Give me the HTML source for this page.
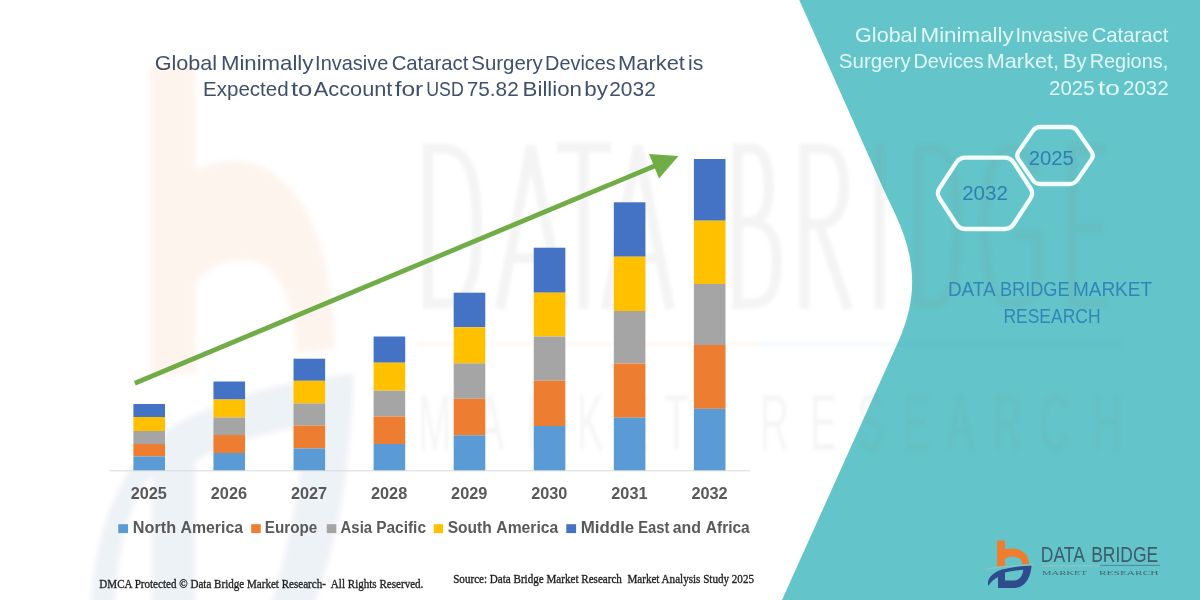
<!DOCTYPE html>
<html><head><meta charset="utf-8">
<style>
html,body{margin:0;padding:0;background:#fff;}
body{width:1200px;height:600px;overflow:hidden;position:relative;font-family:"Liberation Sans",sans-serif;}
svg{position:absolute;left:0;top:0;display:block;}
</style></head><body>
<svg width="1200" height="600" viewBox="0 0 1200 600">
<rect x="0" y="0" width="1200" height="600" fill="#ffffff"/>

<defs><filter id="bl" x="-10%" y="-10%" width="120%" height="120%"><feGaussianBlur stdDeviation="2.5"/></filter>
<filter id="bl2" x="-5%" y="-5%" width="110%" height="110%"><feGaussianBlur stdDeviation="1.5"/></filter></defs>
<g filter="url(#bl)">
<path transform="matrix(5.8,0,0,12,-5633.2,-6421.3)" d="M997.1 566.5 L997.1 541.5 Q997.1 540.5 998.1 540.5 L1004 540.5 Q1005 540.5 1005 541.5 L1005 549.2 C1008 548.6 1011 548.4 1013.5 548.6 C1023 549.5 1028.6 555 1029 564.2 L1022.4 564.6 C1022 560 1019 557 1014 556.8 C1010 556.7 1007 557.4 1005 558.6 L1005 566.2 Z" fill="#ed7d31" opacity="0.085"/>
<path transform="matrix(6.0,0,0,12.3,-5835.6,-6581.9)" d="M988.2 590 C986 580 992 572.5 1002 569.6 C1012 567 1022 566 1031.5 565.5 C1031 576 1026 587.5 1014.5 592 L998 592 L998 573.8 C993.5 576 991 581 991.5 590 Z M1005 590 L1005 572.6 C1011 571 1017 570.2 1023.3 569.8 C1022.8 575 1020 582 1014 590 Z" fill="#2d4b8c" fill-rule="evenodd" opacity="0.07"/>
</g>

<path d="M799.3 0 L1200 0 L1200 600 L782 600 L899 340 C930.5 270 897.2 220 883.85 190 Z" fill="#63c5c9"/>
<g filter="url(#bl2)">
<g opacity="0.085" fill="none" stroke="#7f7f7f" stroke-width="10">
<path d="M428 309 L428 148.5 L443 148.5 C468 148.5 477 175 477 228 C477 281 468 303.5 443 303.5 L428 303.5"/>
<path d="M500 309 L531 146 L563 309 M511 258 L552 258"/>
<path d="M557 147.5 L611 147.5 M583.5 147.5 L583.5 309"/>
<path d="M606 309 L638 146 L670 309 M617 258 L659 258"/>
<path d="M737.5 309 L737.5 148.5 L752 148.5 C764 148.5 769 166 769 187 C769 210 762 222 748 222 L737.5 222 M748 222 C770 222 777 238 777 262 C777 292 768 303.5 752 303.5 L737.5 303.5"/>
<path d="M804.5 309 L804.5 148.5 L821 148.5 C838 148.5 844 164 844 186 C844 211 835 224 819 224 L804.5 224 M819 224 L848 309"/>
<path d="M879.5 143 L879.5 309"/>
<path d="M919 309 L919 148.5 L932 148.5 C950 148.5 957 171 957 228 C957 285 950 303.5 932 303.5 L919 303.5"/>
<path d="M1036 175 C1032 158 1022 148.5 1011 148.5 C993 148.5 984.5 180 984.5 228 C984.5 276 993 303.5 1011 303.5 C1024 303.5 1032 298 1037.5 292 L1037.5 235 L1015 235"/>
<path d="M1106 148.5 L1072 148.5 L1072 303.5 L1106 303.5 M1072 228 L1103 228"/>
</g>
<line x1="418" y1="344" x2="760" y2="344" stroke="#ed7d31" stroke-opacity="0.06" stroke-width="3"/>
<line x1="760" y1="344" x2="1121" y2="344" stroke="#4472c4" stroke-opacity="0.06" stroke-width="3"/>
<g opacity="0.075" fill="#7f7f7f" font-family="Liberation Sans" font-size="80">
<text transform="translate(418,449.5) scale(0.5,1)">M</text>
<text transform="translate(477,449.5) scale(0.5,1)">A</text>
<text transform="translate(527,449.5) scale(0.5,1)">R</text>
<text transform="translate(577,449.5) scale(0.5,1)">K</text>
<text transform="translate(622,449.5) scale(0.5,1)">E</text>
<text transform="translate(664,449.5) scale(0.5,1)">T</text>
<text transform="translate(760,449.5) scale(0.5,1)">R</text>
<text transform="translate(810,449.5) scale(0.5,1)">E</text>
<text transform="translate(857,449.5) scale(0.5,1)">S</text>
<text transform="translate(903,449.5) scale(0.5,1)">E</text>
<text transform="translate(947,449.5) scale(0.5,1)">A</text>
<text transform="translate(993,449.5) scale(0.5,1)">R</text>
<text transform="translate(1040,449.5) scale(0.5,1)">C</text>
<text transform="translate(1093,449.5) scale(0.5,1)">H</text>
</g>
</g>

<text x="154.65" y="69.80" font-family="Liberation Sans" font-size="20.4" font-weight="normal" fill="#3f506b" textLength="62.45" lengthAdjust="spacingAndGlyphs">Global</text>
<text x="220.90" y="69.80" font-family="Liberation Sans" font-size="20.4" font-weight="normal" fill="#3f506b" textLength="92.50" lengthAdjust="spacingAndGlyphs">Minimally</text>
<text x="315.10" y="69.80" font-family="Liberation Sans" font-size="20.4" font-weight="normal" fill="#3f506b" textLength="73.20" lengthAdjust="spacingAndGlyphs">Invasive</text>
<text x="391.70" y="69.80" font-family="Liberation Sans" font-size="20.4" font-weight="normal" fill="#3f506b" textLength="76.60" lengthAdjust="spacingAndGlyphs">Cataract</text>
<text x="471.30" y="69.80" font-family="Liberation Sans" font-size="20.4" font-weight="normal" fill="#3f506b" textLength="71.55" lengthAdjust="spacingAndGlyphs">Surgery</text>
<text x="545.10" y="69.80" font-family="Liberation Sans" font-size="20.4" font-weight="normal" fill="#3f506b" textLength="70.70" lengthAdjust="spacingAndGlyphs">Devices</text>
<text x="618.00" y="69.80" font-family="Liberation Sans" font-size="20.4" font-weight="normal" fill="#3f506b" textLength="66.90" lengthAdjust="spacingAndGlyphs">Market</text>
<text x="688.00" y="69.80" font-family="Liberation Sans" font-size="20.4" font-weight="normal" fill="#3f506b" textLength="15.30" lengthAdjust="spacingAndGlyphs">is</text>
<text x="203.00" y="96.10" font-family="Liberation Sans" font-size="20.4" font-weight="normal" fill="#3f506b" textLength="85.70" lengthAdjust="spacingAndGlyphs">Expected</text>
<text x="290.90" y="96.10" font-family="Liberation Sans" font-size="20.4" font-weight="normal" fill="#3f506b" textLength="21.50" lengthAdjust="spacingAndGlyphs">to</text>
<text x="313.80" y="96.10" font-family="Liberation Sans" font-size="20.4" font-weight="normal" fill="#3f506b" textLength="78.60" lengthAdjust="spacingAndGlyphs">Account</text>
<text x="394.65" y="96.10" font-family="Liberation Sans" font-size="20.4" font-weight="normal" fill="#3f506b" textLength="28.65" lengthAdjust="spacingAndGlyphs">for</text>
<text x="426.30" y="96.10" font-family="Liberation Sans" font-size="20.4" font-weight="normal" fill="#3f506b" textLength="37.50" lengthAdjust="spacingAndGlyphs">USD</text>
<text x="466.70" y="96.10" font-family="Liberation Sans" font-size="20.4" font-weight="normal" fill="#3f506b" textLength="52.00" lengthAdjust="spacingAndGlyphs">75.82</text>
<text x="522.60" y="96.10" font-family="Liberation Sans" font-size="20.4" font-weight="normal" fill="#3f506b" textLength="59.40" lengthAdjust="spacingAndGlyphs">Billion</text>
<text x="584.20" y="96.10" font-family="Liberation Sans" font-size="20.4" font-weight="normal" fill="#3f506b" textLength="23.65" lengthAdjust="spacingAndGlyphs">by</text>
<text x="609.20" y="96.10" font-family="Liberation Sans" font-size="20.4" font-weight="normal" fill="#3f506b" textLength="46.60" lengthAdjust="spacingAndGlyphs">2032</text>
<text x="855.10" y="41.60" font-family="Liberation Sans" font-size="20.6" font-weight="normal" fill="#e2f7f7" textLength="62.30" lengthAdjust="spacingAndGlyphs">Global</text>
<text x="920.50" y="41.60" font-family="Liberation Sans" font-size="20.6" font-weight="normal" fill="#e2f7f7" textLength="93.20" lengthAdjust="spacingAndGlyphs">Minimally</text>
<text x="1015.50" y="41.60" font-family="Liberation Sans" font-size="20.6" font-weight="normal" fill="#e2f7f7" textLength="73.20" lengthAdjust="spacingAndGlyphs">Invasive</text>
<text x="1091.70" y="41.60" font-family="Liberation Sans" font-size="20.6" font-weight="normal" fill="#e2f7f7" textLength="76.60" lengthAdjust="spacingAndGlyphs">Cataract</text>
<text x="838.80" y="68.40" font-family="Liberation Sans" font-size="20.6" font-weight="normal" fill="#e2f7f7" textLength="72.00" lengthAdjust="spacingAndGlyphs">Surgery</text>
<text x="913.40" y="68.40" font-family="Liberation Sans" font-size="20.6" font-weight="normal" fill="#e2f7f7" textLength="70.30" lengthAdjust="spacingAndGlyphs">Devices</text>
<text x="986.70" y="68.40" font-family="Liberation Sans" font-size="20.6" font-weight="normal" fill="#e2f7f7" textLength="72.40" lengthAdjust="spacingAndGlyphs">Market,</text>
<text x="1063.00" y="68.40" font-family="Liberation Sans" font-size="20.6" font-weight="normal" fill="#e2f7f7" textLength="23.60" lengthAdjust="spacingAndGlyphs">By</text>
<text x="1089.65" y="68.40" font-family="Liberation Sans" font-size="20.6" font-weight="normal" fill="#e2f7f7" textLength="78.65" lengthAdjust="spacingAndGlyphs">Regions,</text>
<text x="1049.10" y="95.00" font-family="Liberation Sans" font-size="20.6" font-weight="normal" fill="#e2f7f7" textLength="45.40" lengthAdjust="spacingAndGlyphs">2025</text>
<text x="1098.00" y="95.00" font-family="Liberation Sans" font-size="20.6" font-weight="normal" fill="#e2f7f7" textLength="21.90" lengthAdjust="spacingAndGlyphs">to</text>
<text x="1123.00" y="95.00" font-family="Liberation Sans" font-size="20.6" font-weight="normal" fill="#e2f7f7" textLength="45.70" lengthAdjust="spacingAndGlyphs">2032</text>
<g fill="none" stroke="#f4fbfb" stroke-width="4.3">
<path d="M939.48 188.28 L956.22 162.62 Q959.50 157.60 965.50 157.60 L1004.50 157.60 Q1010.50 157.60 1013.78 162.62 L1030.52 188.28 Q1033.80 193.30 1030.52 198.32 L1013.78 223.98 Q1010.50 229.00 1004.50 229.00 L965.50 229.00 Q959.50 229.00 956.22 223.98 L939.48 198.32 Q936.20 193.30 939.48 188.28 Z"/>
<path d="M1018.64 151.39 L1032.66 131.11 Q1035.50 127.00 1040.50 127.00 L1069.50 127.00 Q1074.50 127.00 1077.34 131.11 L1091.36 151.39 Q1094.20 155.50 1091.36 159.61 L1077.34 179.89 Q1074.50 184.00 1069.50 184.00 L1040.50 184.00 Q1035.50 184.00 1032.66 179.89 L1018.64 159.61 Q1015.80 155.50 1018.64 151.39 Z"/>
</g>
<text x="962.15" y="200.10" font-family="Liberation Sans" font-size="20" font-weight="normal" fill="#2f7fb5" textLength="45.75" lengthAdjust="spacingAndGlyphs">2032</text>
<text x="1028.70" y="164.50" font-family="Liberation Sans" font-size="20" font-weight="normal" fill="#2f7fb5" textLength="45.20" lengthAdjust="spacingAndGlyphs">2025</text>
<text x="947.90" y="296.00" font-family="Liberation Sans" font-size="20.8" font-weight="normal" fill="#3385b9" textLength="47.70" lengthAdjust="spacingAndGlyphs">DATA</text>
<text x="999.90" y="296.00" font-family="Liberation Sans" font-size="20.8" font-weight="normal" fill="#3385b9" textLength="69.70" lengthAdjust="spacingAndGlyphs">BRIDGE</text>
<text x="1072.90" y="296.00" font-family="Liberation Sans" font-size="20.8" font-weight="normal" fill="#3385b9" textLength="79.20" lengthAdjust="spacingAndGlyphs">MARKET</text>
<text x="1003.40" y="323.00" font-family="Liberation Sans" font-size="20.8" font-weight="normal" fill="#3385b9" textLength="97.20" lengthAdjust="spacingAndGlyphs">RESEARCH</text>
<line x1="109.5" y1="470.8" x2="750" y2="470.8" stroke="#d9d9d9" stroke-width="1"/>
<rect x="133.40" y="404.00" width="31.6" height="13.00" fill="#4472c4"/>
<rect x="133.40" y="417.00" width="31.6" height="14.00" fill="#ffc000"/>
<rect x="133.40" y="431.00" width="31.6" height="13.00" fill="#a5a5a5"/>
<rect x="133.40" y="444.00" width="31.6" height="12.50" fill="#ed7d31"/>
<rect x="133.40" y="456.50" width="31.6" height="13.80" fill="#5b9bd5"/>
<rect x="213.47" y="381.50" width="31.6" height="18.00" fill="#4472c4"/>
<rect x="213.47" y="399.50" width="31.6" height="18.00" fill="#ffc000"/>
<rect x="213.47" y="417.50" width="31.6" height="17.50" fill="#a5a5a5"/>
<rect x="213.47" y="435.00" width="31.6" height="18.00" fill="#ed7d31"/>
<rect x="213.47" y="453.00" width="31.6" height="17.30" fill="#5b9bd5"/>
<rect x="293.54" y="358.70" width="31.6" height="22.10" fill="#4472c4"/>
<rect x="293.54" y="380.80" width="31.6" height="22.70" fill="#ffc000"/>
<rect x="293.54" y="403.50" width="31.6" height="22.10" fill="#a5a5a5"/>
<rect x="293.54" y="425.60" width="31.6" height="22.90" fill="#ed7d31"/>
<rect x="293.54" y="448.50" width="31.6" height="21.80" fill="#5b9bd5"/>
<rect x="373.61" y="336.50" width="31.6" height="26.20" fill="#4472c4"/>
<rect x="373.61" y="362.70" width="31.6" height="28.00" fill="#ffc000"/>
<rect x="373.61" y="390.70" width="31.6" height="25.80" fill="#a5a5a5"/>
<rect x="373.61" y="416.50" width="31.6" height="27.50" fill="#ed7d31"/>
<rect x="373.61" y="444.00" width="31.6" height="26.30" fill="#5b9bd5"/>
<rect x="453.68" y="292.70" width="31.6" height="34.60" fill="#4472c4"/>
<rect x="453.68" y="327.30" width="31.6" height="36.00" fill="#ffc000"/>
<rect x="453.68" y="363.30" width="31.6" height="35.40" fill="#a5a5a5"/>
<rect x="453.68" y="398.70" width="31.6" height="36.60" fill="#ed7d31"/>
<rect x="453.68" y="435.30" width="31.6" height="35.00" fill="#5b9bd5"/>
<rect x="533.75" y="247.70" width="31.6" height="45.00" fill="#4472c4"/>
<rect x="533.75" y="292.70" width="31.6" height="43.80" fill="#ffc000"/>
<rect x="533.75" y="336.50" width="31.6" height="44.20" fill="#a5a5a5"/>
<rect x="533.75" y="380.70" width="31.6" height="45.30" fill="#ed7d31"/>
<rect x="533.75" y="426.00" width="31.6" height="44.30" fill="#5b9bd5"/>
<rect x="613.82" y="202.30" width="31.6" height="54.40" fill="#4472c4"/>
<rect x="613.82" y="256.70" width="31.6" height="54.30" fill="#ffc000"/>
<rect x="613.82" y="311.00" width="31.6" height="52.50" fill="#a5a5a5"/>
<rect x="613.82" y="363.50" width="31.6" height="54.20" fill="#ed7d31"/>
<rect x="613.82" y="417.70" width="31.6" height="52.60" fill="#5b9bd5"/>
<rect x="693.89" y="159.00" width="31.6" height="61.70" fill="#4472c4"/>
<rect x="693.89" y="220.70" width="31.6" height="63.30" fill="#ffc000"/>
<rect x="693.89" y="284.00" width="31.6" height="61.00" fill="#a5a5a5"/>
<rect x="693.89" y="345.00" width="31.6" height="63.80" fill="#ed7d31"/>
<rect x="693.89" y="408.80" width="31.6" height="61.50" fill="#5b9bd5"/>
<line x1="134.8" y1="383.2" x2="660" y2="163.7" stroke="#70ad47" stroke-width="4.75"/>
<path d="M678.5 156 L649 154 L659 178.5 Z" fill="#70ad47"/>
<text x="148.80" y="498.7" font-family="Liberation Sans" font-weight="bold" font-size="16.3" fill="#595959" text-anchor="middle">2025</text>
<text x="228.90" y="498.7" font-family="Liberation Sans" font-weight="bold" font-size="16.3" fill="#595959" text-anchor="middle">2026</text>
<text x="309.00" y="498.7" font-family="Liberation Sans" font-weight="bold" font-size="16.3" fill="#595959" text-anchor="middle">2027</text>
<text x="389.10" y="498.7" font-family="Liberation Sans" font-weight="bold" font-size="16.3" fill="#595959" text-anchor="middle">2028</text>
<text x="469.20" y="498.7" font-family="Liberation Sans" font-weight="bold" font-size="16.3" fill="#595959" text-anchor="middle">2029</text>
<text x="549.30" y="498.7" font-family="Liberation Sans" font-weight="bold" font-size="16.3" fill="#595959" text-anchor="middle">2030</text>
<text x="629.40" y="498.7" font-family="Liberation Sans" font-weight="bold" font-size="16.3" fill="#595959" text-anchor="middle">2031</text>
<text x="709.50" y="498.7" font-family="Liberation Sans" font-weight="bold" font-size="16.3" fill="#595959" text-anchor="middle">2032</text>
<rect x="118.25" y="524.2" width="9.75" height="8.9" fill="#5b9bd5"/>
<rect x="251.2" y="524.2" width="9.50" height="8.9" fill="#ed7d31"/>
<rect x="326.8" y="524.2" width="9.50" height="8.9" fill="#a5a5a5"/>
<rect x="433.75" y="524.2" width="9.35" height="8.9" fill="#ffc000"/>
<rect x="566.3" y="524.2" width="9.80" height="8.9" fill="#4472c4"/>
<text x="132.80" y="532.60" font-family="Liberation Sans" font-size="15.6" font-weight="bold" fill="#595959" textLength="43.30" lengthAdjust="spacingAndGlyphs">North</text>
<text x="180.50" y="532.60" font-family="Liberation Sans" font-size="15.6" font-weight="bold" fill="#595959" textLength="62.50" lengthAdjust="spacingAndGlyphs">America</text>
<text x="264.80" y="532.60" font-family="Liberation Sans" font-size="15.6" font-weight="bold" fill="#595959" textLength="52.50" lengthAdjust="spacingAndGlyphs">Europe</text>
<text x="340.60" y="532.60" font-family="Liberation Sans" font-size="15.6" font-weight="bold" fill="#595959" textLength="31.50" lengthAdjust="spacingAndGlyphs">Asia</text>
<text x="376.20" y="532.60" font-family="Liberation Sans" font-size="15.6" font-weight="bold" fill="#595959" textLength="49.80" lengthAdjust="spacingAndGlyphs">Pacific</text>
<text x="447.70" y="532.60" font-family="Liberation Sans" font-size="15.6" font-weight="bold" fill="#595959" textLength="44.00" lengthAdjust="spacingAndGlyphs">South</text>
<text x="496.30" y="532.60" font-family="Liberation Sans" font-size="15.6" font-weight="bold" fill="#595959" textLength="62.00" lengthAdjust="spacingAndGlyphs">America</text>
<text x="580.80" y="532.60" font-family="Liberation Sans" font-size="15.6" font-weight="bold" fill="#595959" textLength="53.45" lengthAdjust="spacingAndGlyphs">Middle</text>
<text x="638.25" y="532.60" font-family="Liberation Sans" font-size="15.6" font-weight="bold" fill="#595959" textLength="31.25" lengthAdjust="spacingAndGlyphs">East</text>
<text x="672.75" y="532.60" font-family="Liberation Sans" font-size="15.6" font-weight="bold" fill="#595959" textLength="28.25" lengthAdjust="spacingAndGlyphs">and</text>
<text x="705.75" y="532.60" font-family="Liberation Sans" font-size="15.6" font-weight="bold" fill="#595959" textLength="44.00" lengthAdjust="spacingAndGlyphs">Africa</text>
<text x="99.30" y="588.30" font-family="Liberation Serif" font-size="12.8" font-weight="normal" fill="#1a1a1a" textLength="324.10" lengthAdjust="spacingAndGlyphs" stroke="#2a2a2a" stroke-width="0.35">DMCA Protected © Data Bridge Market Research-&#160; All Rights Reserved.</text>
<text x="453.20" y="582.90" font-family="Liberation Serif" font-size="12" font-weight="normal" fill="#1a1a1a" textLength="300.80" lengthAdjust="spacingAndGlyphs" stroke="#2a2a2a" stroke-width="0.35">Source: Data Bridge Market Research&#160; Market Analysis Study 2025</text>
<path d="M997.1 566.5 L997.1 541.5 Q997.1 540.5 998.1 540.5 L1004 540.5 Q1005 540.5 1005 541.5 L1005 549.2 C1008 548.6 1011 548.4 1013.5 548.6 C1023 549.5 1028.6 555 1029 564.2 L1022.4 564.6 C1022 560 1019 557 1014 556.8 C1010 556.7 1007 557.4 1005 558.6 L1005 566.2 Z" fill="#f07d2e"/>
<path d="M988.5 586 C986 580 992 572.5 1002 569.6 C1012 567 1022 566 1031.5 565.5 C1031 576 1026 587.5 1014.5 588 L998 588 L998 577 C994 579 990.5 582 988.5 586 Z M1005 580.6 L1005 572.6 C1011 571 1017 570.2 1023.3 569.8 C1022.8 575 1020 580.4 1014 580.6 Z" fill="#2e4b8b" fill-rule="evenodd"/>
<path d="M986 569.2 C1000 566.5 1015 565.2 1034 564.8" fill="none" stroke="#a9c4bd" stroke-width="0.7"/>
<text x="1040.80" y="562.20" font-family="Liberation Sans" font-size="21.4" font-weight="normal" fill="#3d5b6b" textLength="44.20" lengthAdjust="spacingAndGlyphs">DATA</text>
<text x="1091.20" y="562.20" font-family="Liberation Sans" font-size="21.4" font-weight="normal" fill="#3d5b6b" textLength="66.90" lengthAdjust="spacingAndGlyphs">BRIDGE</text>
<line x1="1042" y1="565.8" x2="1100" y2="565.8" stroke="#a9c2b2" stroke-width="0.8"/>
<line x1="1100" y1="565.4" x2="1160" y2="565.4" stroke="#4f7c92" stroke-width="0.9"/>
<text x="1042.00" y="575.30" font-family="Liberation Serif" font-size="6.2" font-weight="normal" fill="#46666f" textLength="45.00" lengthAdjust="spacingAndGlyphs">MARKET</text>
<text x="1099.00" y="575.30" font-family="Liberation Serif" font-size="6.2" font-weight="normal" fill="#46666f" textLength="59.50" lengthAdjust="spacingAndGlyphs">RESEARCH</text>
</svg>
</body></html>
